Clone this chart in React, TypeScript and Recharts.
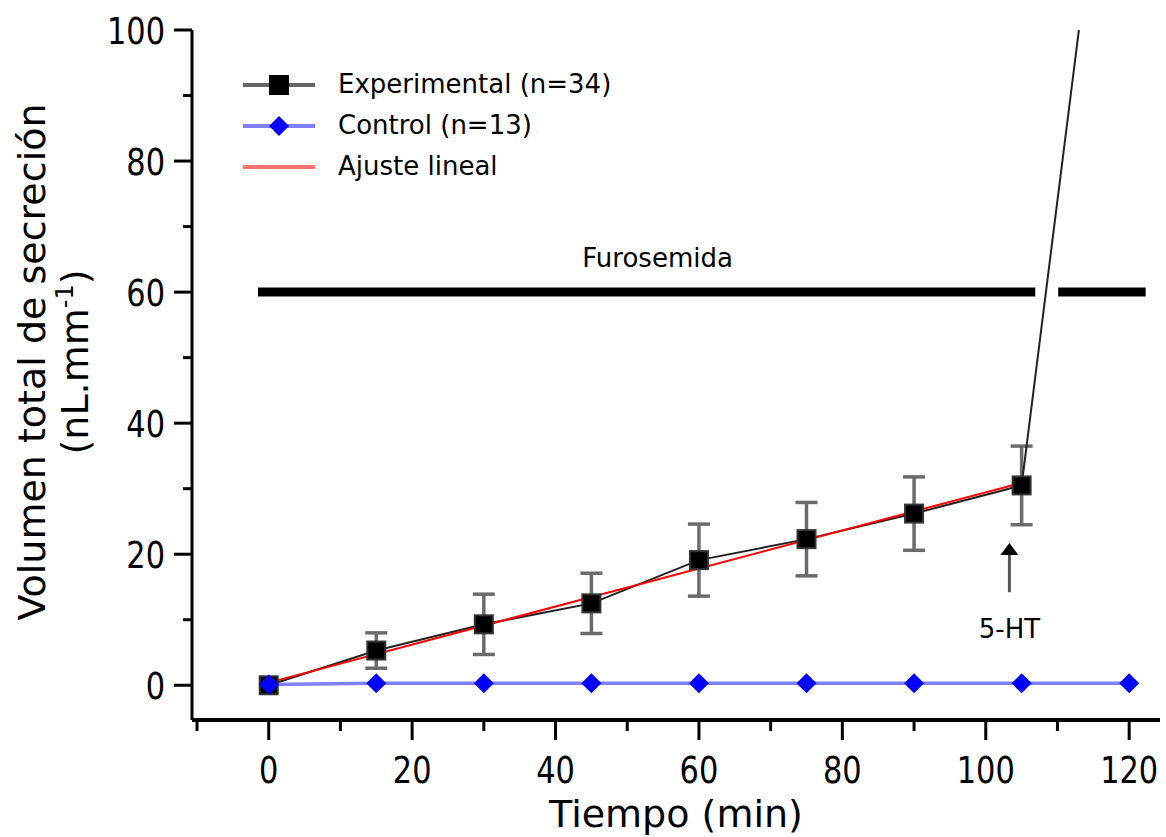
import React from "react";
import {
  LineChart,
  Line,
  XAxis,
  YAxis,
  ErrorBar,
  ReferenceLine,
  Legend,
} from "recharts";

// tiempo (min)
const times = [0, 15, 30, 45, 60, 75, 90, 105, 120];
// volumen total de secreción (nL.mm-1)
const experimental = [0, 5.3, 9.3, 12.5, 19.1, 22.3, 26.2, 30.5, 161];
const experimentalSem = [null, 2.7, 4.6, 4.6, 5.5, 5.6, 5.6, 6.0, null];
const control = [0.1, 0.3, 0.3, 0.3, 0.3, 0.3, 0.3, 0.3, 0.3];
// ajuste lineal (extremos)
const fitTimes = [0, 105];
const fitValues = [0.4, 30.9];

const xTicks = [-10, 0, 10, 20, 30, 40, 50, 60, 70, 80, 90, 100, 110, 120];
const yTicks = [0, 10, 20, 30, 40, 50, 60, 70, 80, 90, 100];

// barra de furosemida (tramos en min) y flecha 5-HT
const furoLevel = 60;
const furoSegments = [
  [-1.5, 106.9],
  [110.1, 122.3],
];
const arrowTime = 103.3;
const arrowFrom = 14.2;
const arrowTo = 21.7;

const expData = times.map((t, i) => ({ t, v: experimental[i], sem: experimentalSem[i] }));
const ctrlData = times.map((t, i) => ({ t, v: control[i] }));
const fitData = fitTimes.map((t, i) => ({ t, v: fitValues[i] }));

const FONT = "DejaVu Sans";

// tick numbers are narrow in the original, squeeze them horizontally
const TickText = ({ x, y, anchor, s }: { x: number; y: number; anchor: string; s: string }) => (
  <text
    transform={`translate(${x},${y}) scale(0.8,1)`}
    textAnchor={anchor}
    fontFamily={FONT}
    fontSize={38}
    fill="#000"
  >
    {s}
  </text>
);

const XTick = (props: any) => {
  const { x, y, payload } = props;
  const v = payload.value;
  const major = v % 20 === 0;
  return (
    <g>
      <line x1={x} x2={x} y1={y} y2={y + (major ? 20 : 11)} stroke="#000" strokeWidth={3} />
      {major && <TickText x={x} y={y + 63} anchor="middle" s={String(v)} />}
    </g>
  );
};

const YTick = (props: any) => {
  const { x, y, payload } = props;
  const v = payload.value;
  const major = v % 20 === 0;
  return (
    <g>
      <line x1={x - (major ? 18 : 9)} x2={x} y1={y} y2={y} stroke="#000" strokeWidth={3} />
      {major && <TickText x={x - 27} y={y + 14} anchor="end" s={String(v)} />}
    </g>
  );
};

const YTitle = () => (
  <g fontFamily={FONT} fontSize={38} fill="#000">
    <text transform="translate(45,362) rotate(-90)" textAnchor="middle">
      Volumen total de secreción
    </text>
    <text transform="translate(88,362) rotate(-90)" textAnchor="middle">
      (nL.mm
      <tspan dy={-15} fontSize={24}>
        -1
      </tspan>
      <tspan dy={15}>)</tspan>
    </text>
  </g>
);

const XTitle = () => (
  <text x={676} y={827} textAnchor="middle" fontFamily={FONT} fontSize={38} fill="#000">
    Tiempo (min)
  </text>
);

const Square = (p: any) => (
  <rect
    key={`sq-${p.index}`}
    x={p.cx - 9}
    y={p.cy - 9}
    width={18}
    height={18}
    fill="#000"
    stroke="#333"
    strokeWidth={2}
  />
);

const Diamond = (p: any) => (
  <polygon
    key={`dm-${p.index}`}
    points={`${p.cx},${p.cy - 10} ${p.cx + 10},${p.cy} ${p.cx},${p.cy + 10} ${p.cx - 10},${p.cy}`}
    fill="#0000ff"
  />
);

const FuroBar = (idx: number) => (p: any) => {
  const { x1, x2, y1 } = p;
  return (
    <g>
      <line x1={x1} x2={x2} y1={y1} y2={y1} stroke="#000" strokeWidth={9} />
      {idx === 0 && (
        <text
          x={(x1 + x2) / 2 + 11}
          y={y1 - 25}
          textAnchor="middle"
          fontFamily={FONT}
          fontSize={26}
          fill="#000"
        >
          Furosemida
        </text>
      )}
    </g>
  );
};

const Arrow = (p: any) => {
  const { x1, y1, y2 } = p;
  const top = Math.min(y1, y2);
  const bottom = Math.max(y1, y2);
  return (
    <g>
      <line x1={x1} x2={x1} y1={bottom} y2={top + 10} stroke="#555" strokeWidth={3} />
      <polygon points={`${x1},${top} ${x1 + 9},${top + 12} ${x1 - 9},${top + 12}`} fill="#000" />
      <text x={x1} y={bottom + 46} textAnchor="middle" fontFamily={FONT} fontSize={26} fill="#000">
        5-HT
      </text>
    </g>
  );
};

const legendRows = [
  { name: "Experimental (n=34)", line: "#666", mark: "square" },
  { name: "Control (n=13)", line: "#8080ff", mark: "diamond" },
  { name: "Ajuste lineal", line: "#ff7070", mark: "none" },
];

const LegendBox = () => (
  <div style={{ fontFamily: FONT, fontSize: 26, color: "#000" }}>
    {legendRows.map((r) => (
      <div key={r.name} style={{ display: "flex", alignItems: "center", height: 41 }}>
        <svg width={72} height={24} style={{ marginRight: 23 }}>
          <line x1={0} x2={72} y1={12} y2={12} stroke={r.line} strokeWidth={4} />
          {r.mark === "square" && <rect x={26} y={2} width={20} height={20} fill="#000" />}
          {r.mark === "diamond" && <polygon points="36,2 46,12 36,22 26,12" fill="#0000ff" />}
        </svg>
        <span style={{ lineHeight: "41px", whiteSpace: "nowrap" }}>{r.name}</span>
      </div>
    ))}
  </div>
);

export default function App() {
  return (
    <div style={{ position: "absolute", left: 0, top: 0, background: "#fff" }}>
      <LineChart width={1166} height={837} margin={{ top: 30, right: 6, bottom: 0, left: 0 }}>
        <XAxis
          type="number"
          dataKey="t"
          domain={[-10.7, 124.3]}
          ticks={xTicks}
          interval={0}
          allowDataOverflow
          height={117}
          tickSize={0}
          tickMargin={0}
          tickLine={false}
          axisLine={{ stroke: "#000", strokeWidth: 4 }}
          tick={<XTick />}
          label={XTitle}
        />
        <YAxis
          type="number"
          dataKey="v"
          domain={[-5.3, 100]}
          ticks={yTicks}
          interval={0}
          allowDataOverflow
          width={192}
          tickSize={0}
          tickMargin={0}
          tickLine={false}
          axisLine={{ stroke: "#000", strokeWidth: 3 }}
          tick={<YTick />}
          label={YTitle}
        />
        {furoSegments.map((s, i) => (
          <ReferenceLine
            key={`furo-${i}`}
            segment={[
              { x: s[0], y: furoLevel },
              { x: s[1], y: furoLevel },
            ]}
            shape={FuroBar(i)}
          />
        ))}
        <ReferenceLine
          segment={[
            { x: arrowTime, y: arrowFrom },
            { x: arrowTime, y: arrowTo },
          ]}
          shape={Arrow}
        />
        <Line
          data={expData}
          dataKey="v"
          name="Experimental (n=34)"
          stroke="#222"
          strokeWidth={2}
          dot={Square}
          activeDot={false}
          isAnimationActive={false}
        >
          <ErrorBar dataKey="sem" direction="y" width={11} stroke="#6b6b6b" strokeWidth={3.5} />
        </Line>
        <Line
          data={fitData}
          dataKey="v"
          name="Ajuste lineal"
          stroke="#ff0000"
          strokeWidth={2}
          dot={false}
          activeDot={false}
          isAnimationActive={false}
        />
        <Line
          data={ctrlData}
          dataKey="v"
          name="Control (n=13)"
          stroke="#7f7fff"
          strokeWidth={3.5}
          dot={Diamond}
          activeDot={false}
          isAnimationActive={false}
        />
        <Legend
          layout="vertical"
          align="center"
          verticalAlign="middle"
          content={LegendBox}
          wrapperStyle={{ left: 243, top: 64, width: 420, height: 125 }}
        />
      </LineChart>
    </div>
  );
}
